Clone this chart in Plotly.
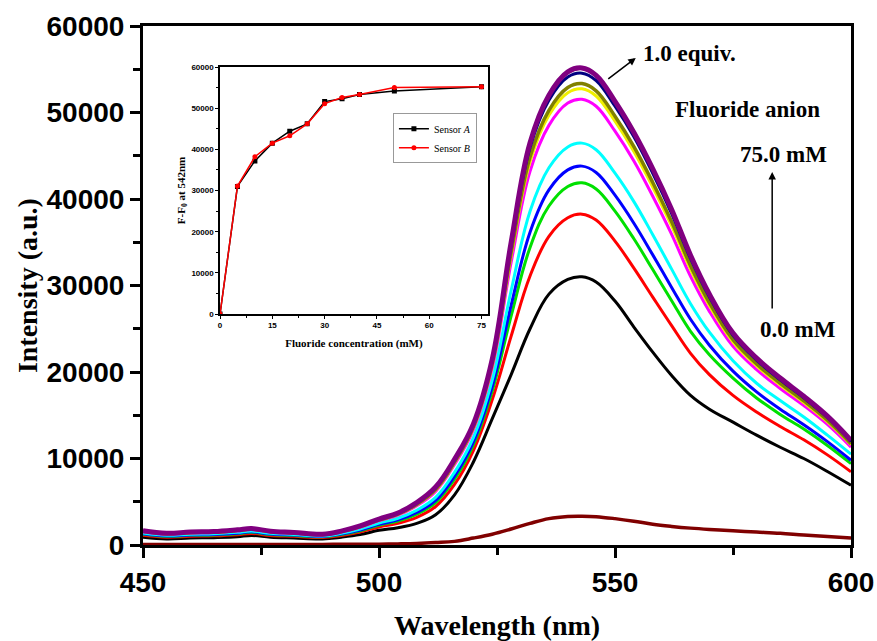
import plotly.graph_objects as go

wavelength = [450, 455, 460, 465, 470, 473, 477, 482, 488, 492, 496, 500, 504, 508, 512, 516, 520, 524,
              528, 532, 536, 540, 543, 546, 550, 554, 558, 562, 566, 570, 575, 580, 585, 590, 595, 600]

free_sensor = [50, 50, 50, 50, 50, 50, 50, 60, 70, 80, 90, 100, 130, 180, 280, 420, 800, 1250,
               1850, 2500, 3050, 3300, 3330, 3280, 3050, 2750, 2400, 2150, 1950, 1800, 1650, 1500, 1350, 1150, 980, 800]
c0 = [900, 700, 800, 850, 950, 1100, 900, 800, 700, 900, 1200, 1700, 2000, 2500, 3500, 5800, 9600, 14600,
      19700, 25000, 29000, 30700, 31000, 30400, 28200, 25200, 22300, 19600, 17300, 15700, 14200, 12700, 11300, 10000, 8500, 6900]
c1 = [1120, 900, 1010, 1060, 1190, 1340, 1110, 1000, 865, 1110, 1500, 2090, 2510, 3200, 4450, 7000, 10920, 16810,
      24150, 31100, 35690, 37830, 38250, 37570, 35130, 32000, 28660, 25360, 22160, 19690, 17290, 15370, 13700, 12160, 10420, 8460]
c2 = [1240, 990, 1115, 1165, 1310, 1460, 1220, 1090, 950, 1220, 1650, 2290, 2770, 3560, 4900, 7600, 11580, 17820,
      26480, 34400, 39190, 41450, 41870, 41160, 38600, 35400, 31840, 28240, 24700, 22000, 19300, 17000, 15100, 13400, 11500, 9400]
c3 = [1300, 1045, 1170, 1220, 1370, 1520, 1270, 1145, 990, 1270, 1730, 2390, 2900, 3760, 5150, 7950, 11930, 18350,
      27720, 36160, 41050, 43370, 43800, 43070, 40440, 37200, 33540, 29780, 26100, 23100, 20100, 17700, 15700, 13900, 11950, 9800]
c4 = [1380, 1120, 1250, 1300, 1460, 1610, 1350, 1220, 1050, 1350, 1840, 2530, 3090, 4020, 5500, 8400, 12420, 19090,
      29420, 38580, 43610, 46020, 46460, 45700, 42980, 39700, 35870, 31890, 27900, 24600, 21300, 18700, 16700, 14800, 12700, 10500]
c5 = [1540, 1250, 1395, 1445, 1630, 1780, 1495, 1350, 1170, 1495, 2050, 2810, 3450, 4530, 6200, 9300, 13340, 20500,
      32680, 43200, 48510, 51090, 51530, 50720, 47840, 44400, 40320, 35920, 31070, 27010, 22960, 20270, 18100, 16120, 13940, 11320]
c6 = [1580, 1285, 1430, 1480, 1670, 1820, 1530, 1385, 1195, 1530, 2100, 2870, 3530, 4650, 6350, 9500, 13560, 20830,
      33450, 44300, 49670, 52290, 52740, 51910, 48990, 45500, 41380, 36880, 31880, 27670, 23470, 20710, 18500, 16480, 14260, 11580]
c7 = [1590, 1300, 1450, 1500, 1690, 1840, 1550, 1400, 1210, 1550, 2130, 2900, 3570, 4710, 6440, 9600, 13670, 21000,
      33840, 44850, 50250, 52890, 53340, 52510, 49570, 46050, 41910, 37360, 32290, 28000, 23730, 20930, 18700, 16660, 14420, 11710]
c8 = [1630, 1330, 1480, 1530, 1730, 1880, 1580, 1430, 1240, 1580, 2180, 2970, 3660, 4840, 6610, 9800, 13890, 21330,
      34610, 45950, 51420, 54100, 54550, 53700, 50720, 47200, 42970, 38320, 33100, 28670, 24240, 21380, 19100, 17020, 14740, 11970]
c9 = [1650, 1350, 1500, 1550, 1750, 1900, 1600, 1450, 1250, 1600, 2200, 3000, 3700, 4900, 6700, 9900, 14000, 21500,
      35000, 46500, 52000, 54700, 55150, 54300, 51300, 47700, 43500, 38800, 33500, 29000, 24500, 21600, 19300, 17200, 14900, 12100]

spectra = [c0, c1, c2, c3, c4, c5, c6, c7, c8, c9]
spectra_colors = ["#000000", "#ff0000", "#00e000", "#0000ff", "#00ffff", "#ff00ff",
                  "#f0f000", "#808000", "#000080", "#800080"]
spectra_widths = [3, 3, 3, 3, 3, 3, 3, 3.5, 3, 5]

conc = [0, 5, 10, 15, 20, 25, 30, 35, 40, 50, 75]
sensor_a = [0, 31000, 37200, 41500, 44400, 46200, 51600, 52300, 53300, 54200, 55200]
sensor_b = [0, 31100, 38200, 41500, 43300, 46200, 51100, 52600, 53300, 55000, 55200]

main_xticks = [450, 500, 550, 600]
main_yticks = [0, 10000, 20000, 30000, 40000, 50000, 60000]
inset_xticks = [0, 15, 30, 45, 60, 75]
inset_yticks = [0, 10000, 20000, 30000, 40000, 50000, 60000]

fig = go.Figure()

for vals, col, w in zip(spectra, spectra_colors, spectra_widths):
    fig.add_trace(go.Scatter(x=wavelength, y=vals, mode="lines",
                             line=dict(color=col, width=w, shape="spline", smoothing=1.1),
                             showlegend=False, xaxis="x", yaxis="y"))
fig.add_trace(go.Scatter(x=wavelength, y=free_sensor, mode="lines",
                         line=dict(color="#800000", width=3.5, shape="spline", smoothing=1.1),
                         showlegend=False, xaxis="x", yaxis="y"))

fig.add_trace(go.Scatter(x=conc, y=sensor_a, mode="lines+markers", name="Sensor <i>A</i>",
                         line=dict(color="black", width=1.5),
                         marker=dict(symbol="square", size=5, color="black"),
                         xaxis="x2", yaxis="y2"))
fig.add_trace(go.Scatter(x=conc, y=sensor_b, mode="lines+markers", name="Sensor <i>B</i>",
                         line=dict(color="red", width=1.5),
                         marker=dict(symbol="circle", size=5, color="red"),
                         xaxis="x2", yaxis="y2"))

tickfont_main = dict(family="Liberation Sans, Arial", size=28, color="black")
title_font_main = dict(family="Liberation Serif, Times New Roman", size=28, color="black")
inset_tickfont = dict(family="Liberation Sans Narrow, Liberation Sans, Arial", size=8, color="black")
inset_titlefont = dict(family="Liberation Serif, Times New Roman", size=11, color="black")

fig.update_layout(
    width=877, height=641,
    margin=dict(l=143, r=26, t=26, b=96),
    paper_bgcolor="white", plot_bgcolor="white",
    xaxis=dict(range=[450, 600], tickvals=main_xticks, ticktext=["<b>%d</b>" % v for v in main_xticks],
               ticks="outside", ticklen=10, tickwidth=3, tickcolor="black",
               minor=dict(tickvals=[475, 525, 575], ticks="outside", ticklen=7, tickwidth=3, tickcolor="black"),
               showline=True, linewidth=3, linecolor="black", mirror=True, automargin=False,
               showgrid=False, zeroline=False, tickfont=tickfont_main),
    yaxis=dict(range=[0, 60000], tickvals=main_yticks, ticktext=["<b>%d</b>" % v for v in main_yticks],
               ticks="outside", ticklen=10, tickwidth=3, tickcolor="black",
               minor=dict(tickvals=[5000, 15000, 25000, 35000, 45000, 55000], ticks="outside", ticklen=7, tickwidth=3, tickcolor="black"),
               showline=True, linewidth=3, linecolor="black", mirror=True, automargin=False,
               showgrid=False, zeroline=False, tickfont=tickfont_main),
    xaxis2=dict(domain=[0.1088, 0.487], anchor="y2", range=[0, 76.8],
                tickvals=inset_xticks, ticktext=["<b>%d</b>" % v for v in inset_xticks],
                ticks="outside", ticklen=3, tickwidth=1, tickcolor="black",
                minor=dict(tickvals=[7.5, 22.5, 37.5, 52.5, 67.5], ticks="outside", ticklen=2, tickwidth=1, tickcolor="black"),
                showline=True, linewidth=1.5, linecolor="black", mirror=True, automargin=False,
                showgrid=False, zeroline=False, tickfont=inset_tickfont,
                title=dict(text="<b>Fluoride concentration (mM)</b>", font=inset_titlefont, standoff=10)),
    yaxis2=dict(domain=[0.445, 0.921], anchor="x2", range=[0, 60000],
                tickvals=inset_yticks, ticktext=["<b>%d</b>" % v for v in inset_yticks],
                ticks="outside", ticklen=3, tickwidth=1, tickcolor="black",
                minor=dict(tickvals=[5000, 15000, 25000, 35000, 45000, 55000], ticks="outside", ticklen=2, tickwidth=1, tickcolor="black"),
                showline=True, linewidth=1.5, linecolor="black", mirror=True, automargin=False,
                showgrid=False, zeroline=False, tickfont=inset_tickfont,
                title=dict(text="<b>F-F<sub>0</sub> at 542nm</b>", font=inset_titlefont, standoff=4)),
    legend=dict(x=0.353, y=0.832, xanchor="left", yanchor="top",
                bgcolor="white", bordercolor="#999999", borderwidth=1,
                font=dict(family="Liberation Serif, Times New Roman", size=10, color="black"),
                itemwidth=30, tracegroupgap=0),
    shapes=[dict(type="rect", xref="x2 domain", yref="y2 domain", x0=0, x1=1, y0=0, y1=1,
                 fillcolor="white", line=dict(width=0), layer="below")],
)

# main axis titles
fig.add_annotation(x=0.5, y=-0.155, xref="paper", yref="paper", yanchor="middle",
                   text="<b>Wavelength (nm)</b>", showarrow=False, font=title_font_main)
fig.add_annotation(x=-0.163, y=0.5, xref="paper", yref="paper", xanchor="center",
                   text="<b>Intensity (a.u.)</b>", textangle=-90, showarrow=False, font=title_font_main)

ann_font = dict(family="Liberation Serif, Times New Roman", size=23, color="black")
fig.add_annotation(x=565.7, y=56800, xref="x", yref="y", text="<b>1.0 equiv.</b>", showarrow=False, font=ann_font)
fig.add_annotation(x=554.4, y=56300, xref="x", yref="y", ax=-29, ay=22, text="", showarrow=True,
                   arrowhead=2, arrowsize=1, arrowwidth=1.5, arrowcolor="black")
fig.add_annotation(x=578.0, y=50290, xref="x", yref="y", text="<b>Fluoride anion</b>", showarrow=False, font=ann_font)
fig.add_annotation(x=585.6, y=45200, xref="x", yref="y", text="<b>75.0 mM</b>", showarrow=False, font=ann_font)
fig.add_annotation(x=583.3, y=43120, xref="x", yref="y", ax=0, ay=138, text="", showarrow=True,
                   arrowhead=2, arrowsize=1, arrowwidth=1.5, arrowcolor="black")
fig.add_annotation(x=588.8, y=24860, xref="x", yref="y", text="<b>0.0 mM</b>", showarrow=False, font=ann_font)

fig.write_html("out.html")
